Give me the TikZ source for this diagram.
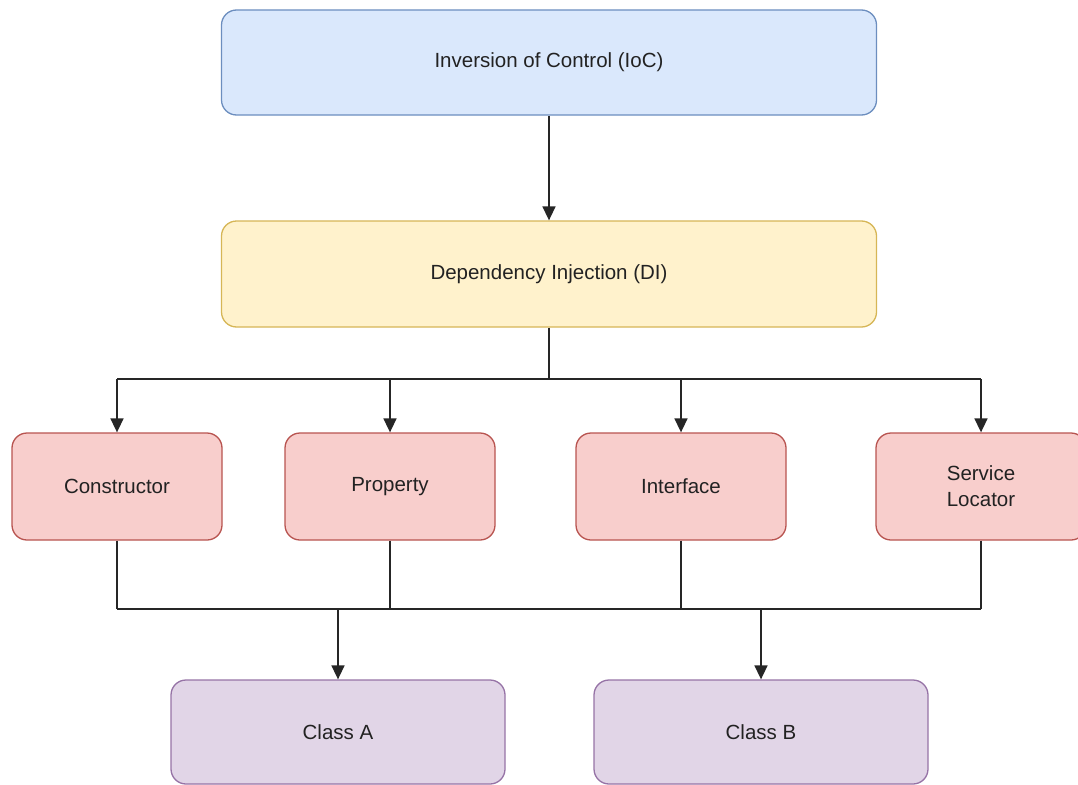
\documentclass[tikz,border=0pt]{standalone}
\usepackage{fontspec}
\setmainfont{Liberation Sans}
\usetikzlibrary{arrows.meta}
\definecolor{bluefill}{HTML}{DAE8FC}
\definecolor{blueline}{HTML}{6C8EBF}
\definecolor{yelfill}{HTML}{FFF2CC}
\definecolor{yelline}{HTML}{D6B656}
\definecolor{redfill}{HTML}{F8CECC}
\definecolor{redline}{HTML}{B85450}
\definecolor{purfill}{HTML}{E1D5E7}
\definecolor{purline}{HTML}{9673A6}
\definecolor{txt}{HTML}{222222}
\tikzset{
  box/.style={draw, line width=1.3pt, rounded corners=15pt, inner sep=0pt, align=center,
    font=\fontsize{20.5}{26}\selectfont, text=txt},
  ioc/.style={box, fill=bluefill, draw=blueline, minimum width=655pt, minimum height=105pt},
  di/.style={box, fill=yelfill, draw=yelline, minimum width=655pt, minimum height=106pt},
  tech/.style={box, fill=redfill, draw=redline, minimum width=210pt, minimum height=107pt},
  cls/.style={box, fill=purfill, draw=purline, minimum width=334pt, minimum height=104pt},
  conn/.style={draw=black!85, line width=1.6pt},
  arr/.style={conn, -{Triangle[length=14pt,width=13pt]}}
}
\begin{document}
\begin{tikzpicture}[x=1pt,y=-1pt]
\useasboundingbox (0,0) rectangle (1078,784);
\node[ioc] (ioc) at (549,62.5) {Inversion of Control (IoC)};
\node[di] (di) at (549,274) {Dependency Injection (DI)};
\node[tech] (con) at (117,486.5) {Constructor};
\node[tech] (prop) at (390,486.5) {Property};
\node[tech] (intf) at (681,486.5) {Interface};
\node[tech] (sl) at (981,486.5) {Service\\Locator};
\node[cls] (ca) at (338,732) {Class A};
\node[cls] (cb) at (761,732) {Class B};
\coordinate (top) at (549,379);
\coordinate (tl) at (117,379);
\coordinate (tr) at (981,379);
\coordinate (bl) at (117,609);
\coordinate (br) at (981,609);
\coordinate (ja) at (338,609);
\coordinate (jb) at (761,609);
\draw[arr] (ioc.south) -- (di.north);
\draw[conn] (di.south) -- (top);
\draw[conn] (tl) -- (tr);
\draw[arr] (tl) -- (con.north);
\draw[arr] (prop.north |- top) -- (prop.north);
\draw[arr] (intf.north |- top) -- (intf.north);
\draw[arr] (tr) -- (sl.north);
\draw[conn] (con.south) -- (bl);
\draw[conn] (prop.south) -- (prop.south |- bl);
\draw[conn] (intf.south) -- (intf.south |- bl);
\draw[conn] (sl.south) -- (br);
\draw[conn] (bl) -- (br);
\draw[arr] (ja) -- (ca.north);
\draw[arr] (jb) -- (cb.north);
\end{tikzpicture}
\end{document}
